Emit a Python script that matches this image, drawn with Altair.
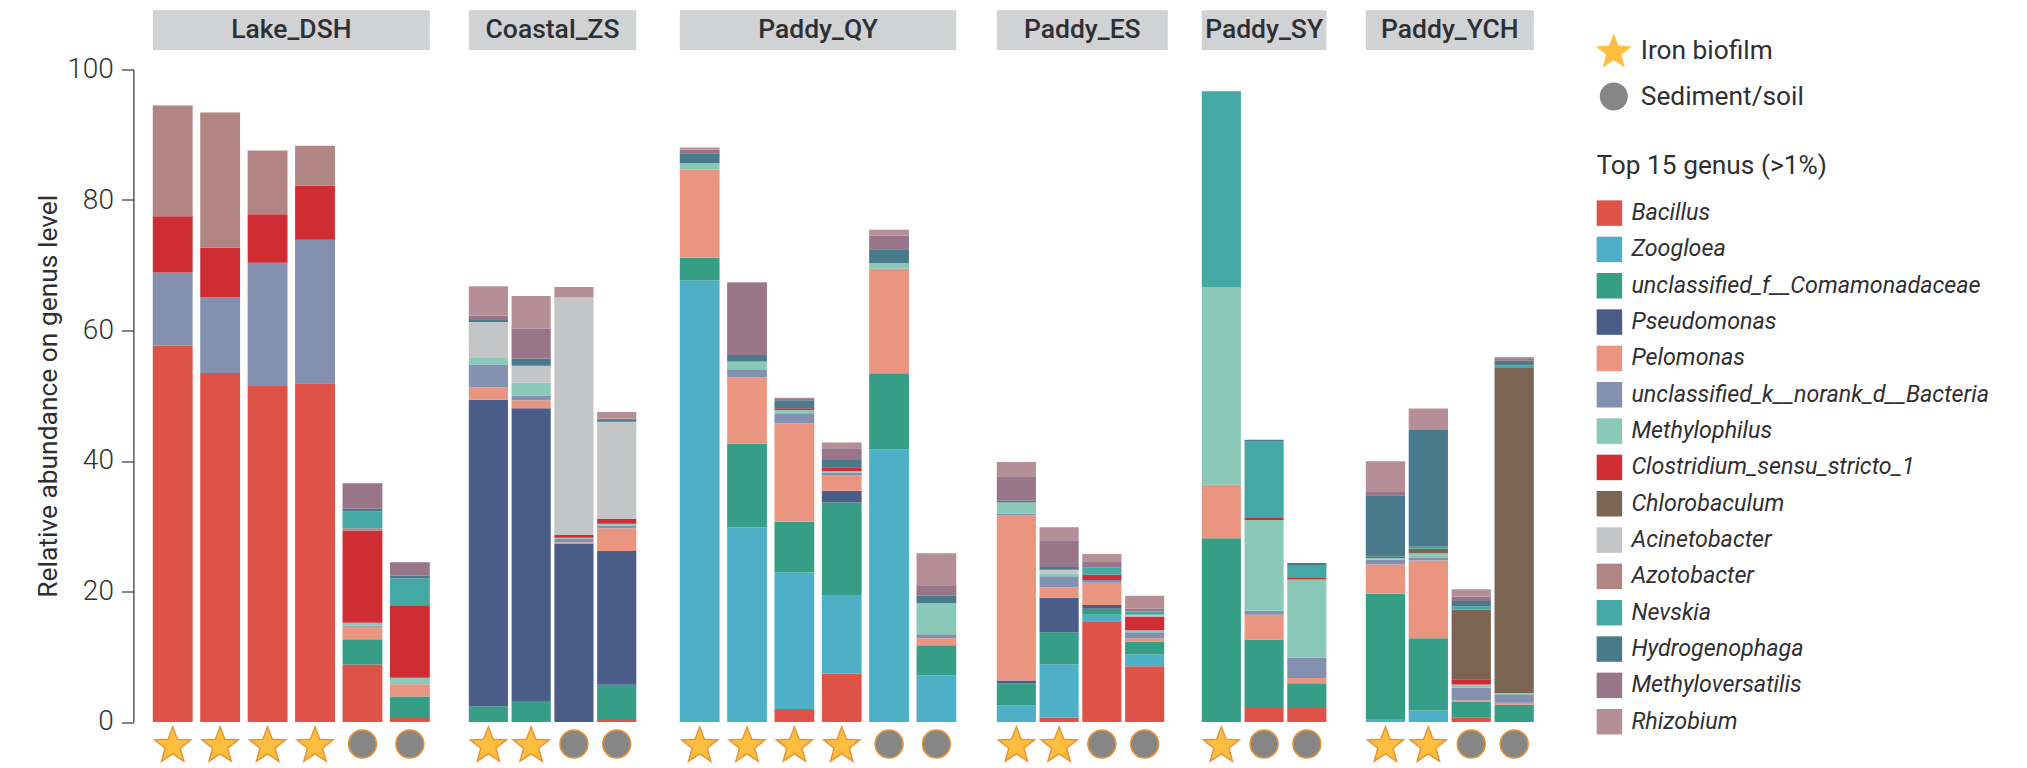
import math
import altair as alt
import pandas as pd

GENUS = ["Bacillus", "Zoogloea", "unclassified_f__Comamonadaceae", "Pseudomonas", "Pelomonas",
         "unclassified_k__norank_d__Bacteria", "Methylophilus", "Clostridium_sensu_stricto_1",
         "Chlorobaculum", "Acinetobacter", "Azotobacter", "Nevskia", "Hydrogenophaga",
         "Methyloversatilis", "Rhizobium"]
COLORS = ["#DD5347", "#4DB0C6", "#369E87", "#4A5D89", "#E99580", "#8390AF", "#8AC8B8", "#CF2D33",
          "#7C6452", "#C4C5C7", "#B08584", "#44A8A5", "#497A8B", "#987589", "#B58E96"]
TYPES = ["Iron biofilm", "Sediment/soil"]

LAKE_DSH = [
    [57.7, 0, 0, 0, 0, 11.2, 0, 8.6, 0, 0, 17.0, 0, 0, 0, 0],
    [53.5, 0, 0, 0, 0, 11.6, 0, 7.6, 0, 0, 20.7, 0, 0, 0, 0],
    [51.5, 0, 0, 0, 0, 18.9, 0, 7.4, 0, 0, 9.8, 0, 0, 0, 0],
    [51.9, 0, 0, 0, 0, 22.0, 0, 8.3, 0, 0, 6.1, 0, 0, 0, 0],
    [8.8, 0, 3.9, 0, 1.9, .2, .4, 14.1, 0, 0, .4, 2.6, .4, 3.9, 0],
    [.6, 0, 3.3, 0, 1.9, 0, 1.0, 11.1, 0, 0, 0, 4.1, .4, 2.1, 0],
]
COASTAL_ZS = [
    [0, 0, 2.4, 47, 1.9, 3.5, 1, 0, 0, 5.5, 0, 0, .3, .7, 4.5],
    [0, 0, 3.1, 45, 1.2, .7, 2, 0, 0, 2.6, 0, 0, 1.1, 4.6, 5],
    [0, 0, 0, 27.35, .2, .5, .2, .4, 0, 36.4, 0, 0, 0, 0, 1.6],
    [.3, 0, 5.4, 20.5, 3.5, .4, .3, .7, 0, 14.9, 0, 0, .3, .2, 1.0],
]
PADDY_QY = [
    [0, 67.65, 3.5, 0, 13.5, 0, 1.0, 0, 0, 0, 0, 0, 1.5, .6, .3],
    [0, 29.85, 12.8, 0, 10.2, 1.2, 1.2, 0, 0, 0, 0, 0, 1, 11.1, .1],
    [2.0, 20.9, 7.8, 0, 15.1, 1.5, .5, .3, 0, 0, 0, 0, 1.2, .2, .2],
    [7.45, 12, 14.2, 1.8, 2.4, .4, .2, .6, 0, 0, 0, 0, 1.1, 1.8, .9],
    [0, 41.75, 11.7, 0, 16, 0, .9, 0, 0, 0, 0, 0, 2.1, 2.1, .9],
    [0, 7.15, 4.6, 0, 1.1, .6, 4.8, 0, 0, 0, 0, 0, 1.1, 1.5, 5],
]
PADDY_ES = [
    [0, 2.55, 3.4, .4, 25.3, .3, 1.7, 0, 0, 0, 0, 0, .3, 3.7, 2.2],
    [.65, 8.2, 4.9, 5.3, 1.6, 1.7, .4, 0, 0, .6, 0, 0, .4, 4.1, 2],
    [15.45, 1, .9, .6, 3.4, .4, 0, .8, 0, 0, 0, 1.1, 0, 1, 1.1],
    [8.55, 1.8, 2, 0, .5, .9, .3, 2.1, 0, .3, 0, .5, 0, .4, 2],
]
PADDY_SY = [
    [0, 0, 28.15, 0, 8.2, 0, 30.3, 0, 0, 0, 0, 30, 0, 0, 0],
    [2.15, 0, 10.5, 0, 3.8, .6, 13.9, .3, 0, 0, 0, 11.7, .3, 0, 0],
    [2.15, 0, 3.8, 0, .8, 3.1, 12, .2, 0, 0, 0, 1.9, .4, 0, 0],
]
PADDY_YCH = [
    [0, .45, 19.2, 0, 4.5, .7, .3, 0, .2, 0, 0, 0, 9.4, .5, 4.7],
    [0, 1.75, 11.1, 0, 11.9, .4, .7, 0, .7, 0, 0, .3, 17.9, 0, 3.3],
    [.65, 0, 2.5, 0, .2, 1.9, .5, .8, 10.7, 0, 0, .5, .8, .7, 1.1],
    [0, 0, 2.65, 0, .3, 1.2, .3, 0, 49.9, 0, 0, .3, .7, .3, .3],
]
SITES = ["Lake_DSH", "Coastal_ZS", "Paddy_QY", "Paddy_ES", "Paddy_SY", "Paddy_YCH"]
TABLES = [LAKE_DSH, COASTAL_ZS, PADDY_QY, PADDY_ES, PADDY_SY, PADDY_YCH]
BIOFILM_COUNT = [4, 2, 4, 2, 1, 2]

H = 652.5
# (panel width incl. trailing gap, bars range, strip width, padding inner)
LAYOUT = [(316, 277, 277, .16), (211, 167.5, 167.5, .085), (317, 276.5, 276.5, .16),
          (205, 167.4, 171, .085), (164, 124.6, 124.6, .085), (168, 168, 168, .085)]

R = 19 / 14
pts = []
for i in range(10):
    r = R if i % 2 == 0 else R * 0.42
    a = -math.pi / 2 + i * math.pi / 5
    pts.append((r * math.cos(a), r * math.sin(a) + 0.095 * R))
STAR = "M" + " L".join(f"{x:.3f},{y:.3f}" for x, y in pts) + " Z"

TEXT = "#2f2f33"
FONT = "Roboto"
shape_legend = alt.Legend(title=None, orient="none", legendX=1598 - 152, legendY=36 - 70,
                          labelFont=FONT, labelFontSize=26.3, labelColor=TEXT, labelOffset=12,
                          labelLimit=400, symbolSize=784, symbolStrokeColor="#E8953A",
                          symbolStrokeWidth=1.5, rowPadding=8, padding=0)
color_legend = alt.Legend(title="Top 15 genus (>1%)", orient="none", legendX=1595.6 - 152,
                          legendY=153.3 - 70, titleFont=FONT, titleFontSize=26.3, titleFontWeight=400,
                          titleColor=TEXT, titlePadding=21, titleLimit=500, labelFont=FONT,
                          labelFontSize=23.3, labelFontStyle="italic", labelColor=TEXT, labelOffset=9,
                          labelLimit=600, symbolType="square", symbolSize=650, symbolStrokeWidth=0,
                          symbolOpacity=1, rowPadding=10.33, padding=0)

panels = []
for idx, (site, table, n_bio, (w, rng, strip, pad)) in enumerate(zip(SITES, TABLES, BIOFILM_COUNT, LAYOUT)):
    names = [f"{site}_{k + 1}" for k in range(len(table))]
    bars = pd.DataFrame([
        {"sample": names[k], "genus": g, "rank": j, "value": v}
        for k, row in enumerate(table) for j, (g, v) in enumerate(zip(GENUS, row)) if v > 0
    ])
    marks = pd.DataFrame([{"sample": names[k], "type": TYPES[0] if k < n_bio else TYPES[1]}
                          for k in range(len(table))])
    xscale = alt.Scale(domain=names, range=[0, rng], paddingInner=pad, paddingOuter=0)
    xenc = alt.X("sample:N", axis=None, scale=xscale, sort=None)
    yaxis = alt.Axis(values=[0, 20, 40, 60, 80, 100], grid=False, offset=19.4, tickSize=12, tickWidth=1.2,
                     tickColor="#333333", domainColor="#333333", domainWidth=1.2, labelFont=FONT,
                     labelFontSize=28, labelFontWeight=300, labelColor="#333333", labelPadding=8,
                     title="Relative abundance on genus level", titleFont=FONT, titleFontSize=26.4,
                     titleFontWeight=400, titleColor=TEXT, titlePadding=4.5) if idx == 0 else None
    bar = alt.Chart(bars).mark_bar().encode(
        x=xenc,
        y=alt.Y("value:Q", stack="zero", scale=alt.Scale(domain=[0, 100], nice=False), axis=yaxis),
        color=alt.Color("genus:N", scale=alt.Scale(domain=GENUS, range=COLORS), legend=color_legend),
        order=alt.Order("rank:Q"),
    )
    sym = alt.Chart(marks).mark_point(filled=True, opacity=1, size=784, stroke="#E8953A", strokeWidth=1.5).encode(
        x=xenc,
        y=alt.value(H + 22),
        shape=alt.Shape("type:N", scale=alt.Scale(domain=TYPES, range=[STAR, "circle"]), legend=shape_legend),
        fill=alt.Fill("type:N", scale=alt.Scale(domain=TYPES, range=["#FFBE3D", "#868686"]), legend=shape_legend),
    )
    head = pd.DataFrame([{"site": site}])
    rect = alt.Chart(head).mark_rect(color="#D1D2D4").encode(
        x=alt.value(0), x2=alt.value(strip), y=alt.value(-59.2), y2=alt.value(-19.5))
    label = alt.Chart(head).mark_text(font=FONT, fontSize=26.5, fontWeight=500, color=TEXT).encode(
        x=alt.value(strip / 2), y=alt.value(-39.5), text="site:N")
    panels.append(alt.layer(rect, label, bar, sym).properties(width=w, height=H))

chart = (
    alt.hconcat(*panels, spacing=0, bounds="flush")
    .resolve_scale(color="shared", fill="shared", shape="shared", y="independent", x="independent")
    .resolve_legend(color="shared", fill="shared", shape="shared")
    .properties(padding={"left": 26.8, "top": 1.5, "right": 5, "bottom": 5}, background="white")
    .configure_view(stroke=None)
)
chart.save("out.html", embed_options={"renderer": "svg", "actions": False})
